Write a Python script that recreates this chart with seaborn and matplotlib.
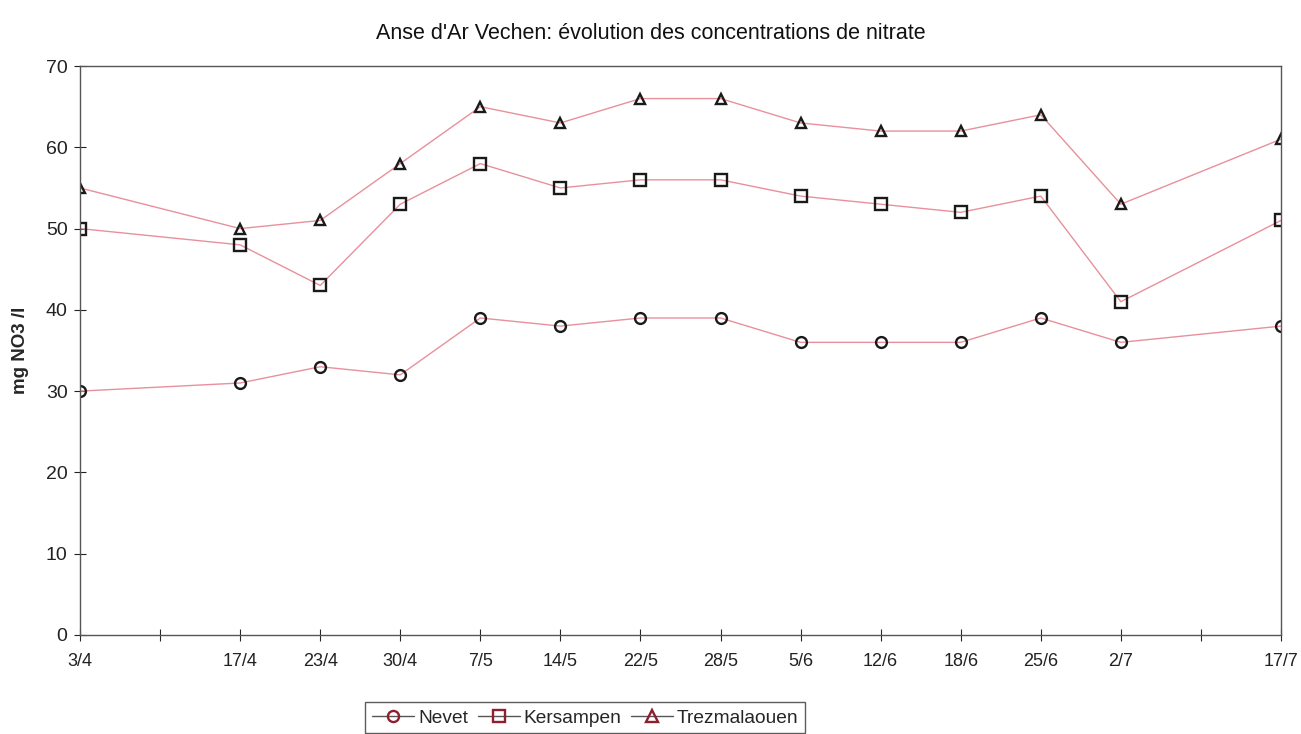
import matplotlib
matplotlib.use("Agg")
import matplotlib.pyplot as plt
from matplotlib.lines import Line2D
import seaborn as sns
import pandas as pd

# Sampling dates (day/month) and the axis slots, including two empty slots
dates = ["3/4", "17/4", "23/4", "30/4", "7/5", "14/5", "22/5", "28/5",
         "5/6", "12/6", "18/6", "25/6", "2/7", "17/7"]
tick_labels = ["3/4", "", "17/4", "23/4", "30/4", "7/5", "14/5", "22/5",
               "28/5", "5/6", "12/6", "18/6", "25/6", "2/7", "", "17/7"]

nevet = [30, 31, 33, 32, 39, 38, 39, 39, 36, 36, 36, 39, 36, 38]
kersampen = [50, 48, 43, 53, 58, 55, 56, 56, 54, 53, 52, 54, 41, 51]
trezmalaouen = [55, 50, 51, 58, 65, 63, 66, 66, 63, 62, 62, 64, 53, 61]

stations = ["Nevet", "Kersampen", "Trezmalaouen"]
series = [nevet, kersampen, trezmalaouen]
markers = ["o", "s", "^"]

rows = []
for name, vals in zip(stations, series):
    for d, v in zip(dates, vals):
        rows.append({"station": name, "slot": tick_labels.index(d), "value": v})
df = pd.DataFrame(rows)

sns.set_theme(style="white")
plt.rcParams["font.family"] = ["Liberation Sans", "DejaVu Sans"]

fig = plt.figure(figsize=(13.01, 7.34), dpi=100)
ax = fig.add_axes([0.0615, 0.135, 0.9231, 0.775])

line_col = "#e8909c"
for name, mk in zip(stations, markers):
    sub = df[df["station"] == name]
    sns.lineplot(data=sub, x="slot", y="value", ax=ax, color=line_col,
                 linewidth=1.0, marker=mk, markersize=8 if mk == "s" else 7.8,
                 markerfacecolor="none", markeredgecolor="#1a1a1a",
                 markeredgewidth=1.7, legend=False)

ax.set_xlim(0, 15)
ax.set_ylim(0, 70)
ax.set_xticks(range(len(tick_labels)))
ax.set_xticklabels(tick_labels, fontsize=13, color="#222222")
ax.set_yticks(range(0, 71, 10))
ax.tick_params(axis="y", labelsize=14, colors="#222222", direction="inout",
               length=8, width=0.8, left=True, pad=5)
ax.tick_params(axis="x", direction="inout", length=8, width=0.8,
               bottom=True, pad=9)
ax.set_xlabel("")
ax.set_ylabel("mg NO3 /l", fontsize=13.5, fontweight="bold", labelpad=12)

for side in ["left", "right", "top", "bottom"]:
    ax.spines[side].set_visible(True)
    ax.spines[side].set_color("#555555")
    ax.spines[side].set_linewidth(1.0)

fig.suptitle("Anse d'Ar Vechen: évolution des concentrations de nitrate",
             y=0.968, fontsize=15.5, color="#111111")

handles = [Line2D([0], [0], color="#555555", linewidth=1.0, marker=mk,
                  markersize=8, markerfacecolor="none",
                  markeredgecolor="#8b2030", markeredgewidth=1.7)
           for mk in markers]
leg = fig.legend(handles, stations, loc="lower center", ncol=3,
                 bbox_to_anchor=(0.45, -0.012), frameon=True, fontsize=13.8,
                 handlelength=2.2, handletextpad=0.2, columnspacing=0.5,
                 borderpad=0.35, fancybox=False)
leg.get_frame().set_edgecolor("#333333")
leg.get_frame().set_linewidth(1.0)

fig.savefig("out.png", dpi=100, facecolor="white")
